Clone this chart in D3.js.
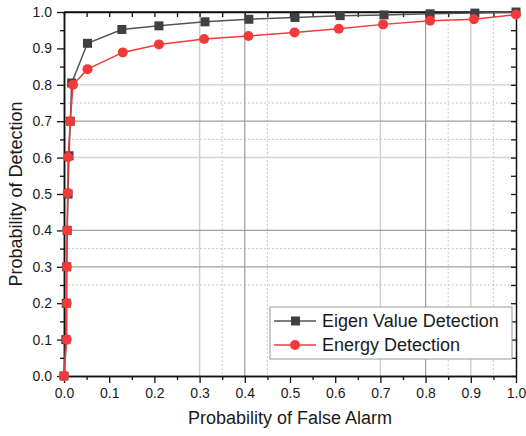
<!DOCTYPE html>
<html>
<head>
<meta charset="utf-8">
<script src="https://cdn.jsdelivr.net/npm/d3@7"></script>
<style>
  body { margin: 0; background: #fff; }
  text { font-family: "Liberation Sans", Arial, sans-serif; fill: #1a1a1a; }
</style>
</head>
<body>
<svg id="chart" width="526" height="436"></svg>
<script>
// ROC data
const eigenPfa = [0, 0.004, 0.005, 0.006, 0.007, 0.009, 0.011, 0.014, 0.017, 0.052, 0.128, 0.21, 0.312, 0.409, 0.511, 0.611, 0.708, 0.81, 0.909, 1.0];
const eigenPd  = [0, 0.1, 0.2, 0.3, 0.4, 0.5, 0.605, 0.7, 0.805, 0.914, 0.952, 0.962, 0.973, 0.98, 0.985, 0.99, 0.992, 0.995, 0.997, 1.0];
const energyPfa = [0, 0.006, 0.006, 0.006, 0.007, 0.008, 0.009, 0.014, 0.02, 0.052, 0.13, 0.21, 0.31, 0.408, 0.51, 0.608, 0.706, 0.81, 0.907, 1.0];
const energyPd  = [0, 0.1, 0.2, 0.3, 0.4, 0.503, 0.601, 0.7, 0.8, 0.843, 0.889, 0.911, 0.926, 0.934, 0.944, 0.954, 0.966, 0.976, 0.98, 0.993];

const tickValues = [0, 0.1, 0.2, 0.3, 0.4, 0.5, 0.6, 0.7, 0.8, 0.9, 1.0];
const minorTicks = [0.05, 0.15, 0.25, 0.35, 0.45, 0.55, 0.65, 0.75, 0.85, 0.95];
// grid lines that show in the figure (partial grid)
const gridXDark = [0.4, 0.8];
const gridXLight = [0.3, 0.7, 0.9];
const gridXDotted = [0.35, 0.45, 0.85, 0.95];
const gridYDark = [0.3, 0.4, 0.7];
const gridYLight = [0.6, 0.8];
const gridYDotted = [0.25, 0.35, 0.65, 0.75];

const seriesNames = ["Eigen Value Detection", "Energy Detection"];

const svg = d3.select("#chart");
const margin = { top: 12, right: 10, bottom: 60, left: 64 };
const width = 526 - margin.left - margin.right;
const height = 436 - margin.top - margin.bottom;
const g = svg.append("g").attr("transform", `translate(${margin.left}, ${margin.top})`);

const x = d3.scaleLinear().domain([0, 1]).range([0, width]);
const y = d3.scaleLinear().domain([0, 1]).range([height, 0]);

// grid
const vgrid = (vals, color, dash, w) => g.append("g").selectAll("line").data(vals).enter().append("line")
  .attr("x1", d => x(d)).attr("x2", d => x(d)).attr("y1", 0).attr("y2", height)
  .attr("stroke", color).attr("stroke-width", w).attr("stroke-dasharray", dash);
const hgrid = (vals, color, dash, w) => g.append("g").selectAll("line").data(vals).enter().append("line")
  .attr("y1", d => y(d)).attr("y2", d => y(d)).attr("x1", 0).attr("x2", width)
  .attr("stroke", color).attr("stroke-width", w).attr("stroke-dasharray", dash);
vgrid(gridXDotted, "#c8c8c8", "2,2", 1);
hgrid(gridYDotted, "#c8c8c8", "2,2", 1);
vgrid(gridXLight, "#cfcfcf", null, 1.5);
hgrid(gridYLight, "#d4d4d4", null, 1.5);
vgrid(gridXDark, "#999", null, 1.2);
hgrid(gridYDark, "#a0a0a0", null, 1.2);

// axes
const fmt = d3.format(".1f");
const styleAxis = sel => {
  sel.select(".domain").attr("stroke", "#111").attr("stroke-width", 1.5);
  sel.selectAll(".tick line").attr("stroke", "#111").attr("stroke-width", 1.3);
  sel.selectAll("text").style("font-size", "14px").attr("fill", "#1a1a1a");
};

g.append("g").attr("transform", `translate(0, ${height})`)
  .call(d3.axisBottom(x).tickValues(minorTicks).tickSize(4).tickFormat("").tickSizeOuter(0)).call(styleAxis);
g.append("g").attr("transform", `translate(0, ${height})`)
  .call(d3.axisBottom(x).tickValues(tickValues).tickSize(7).tickPadding(5).tickFormat(fmt).tickSizeOuter(0)).call(styleAxis);

g.append("g")
  .call(d3.axisLeft(y).tickValues(minorTicks).tickSize(4).tickFormat("").tickSizeOuter(0)).call(styleAxis);
g.append("g")
  .call(d3.axisLeft(y).tickValues(tickValues).tickSize(7).tickPadding(5).tickFormat(fmt).tickSizeOuter(0)).call(styleAxis);

// top and right mirror axes, ticks inward
g.append("g")
  .call(d3.axisBottom(x).tickValues(tickValues.concat(minorTicks)).tickSize(5).tickFormat("").tickSizeOuter(0)).call(styleAxis);
g.append("g").attr("transform", `translate(${width}, 0)`)
  .call(d3.axisRight(y).tickValues(tickValues.concat(minorTicks)).tickSize(-5).tickFormat("").tickSizeOuter(0)).call(styleAxis);
g.append("line").attr("x1", 0).attr("x2", width).attr("y1", 0).attr("y2", 0).attr("stroke", "#111").attr("stroke-width", 1.5);

// axis titles
svg.append("text")
  .attr("x", margin.left + width / 2).attr("y", 424)
  .attr("text-anchor", "middle").style("font-size", "18px")
  .text("Probability of False Alarm");
svg.append("text")
  .attr("transform", `translate(22, ${margin.top + height / 2}) rotate(-90)`)
  .attr("text-anchor", "middle").style("font-size", "18px")
  .text("Probability of Detection");

// series
const eigen = eigenPfa.map((d, i) => [d, eigenPd[i]]);
const energy = energyPfa.map((d, i) => [d, energyPd[i]]);
const line = d3.line().x(d => x(d[0])).y(d => y(d[1]));

g.append("path").datum(eigen).attr("d", line)
  .attr("fill", "none").attr("stroke", "#555").attr("stroke-width", 1.5);
g.selectAll(".sq").data(eigen).enter().append("rect")
  .attr("class", "sq")
  .attr("x", d => x(d[0]) - 4.5).attr("y", d => y(d[1]) - 4.5)
  .attr("width", 9).attr("height", 9).attr("fill", "#404040");

g.append("path").datum(energy).attr("d", line)
  .attr("fill", "none").attr("stroke", "#f23a3a").attr("stroke-width", 1.5);
g.selectAll(".dot").data(energy).enter().append("circle")
  .attr("class", "dot")
  .attr("cx", d => x(d[0])).attr("cy", d => y(d[1]))
  .attr("r", 5).attr("fill", "#f23a3a");

// legend
const lg = svg.append("g").attr("transform", "translate(270, 307)");
lg.append("rect").attr("width", 242).attr("height", 52)
  .attr("fill", "#fff").attr("stroke", "#999").attr("stroke-width", 1);
const colors = ["#555", "#f23a3a"];
seriesNames.forEach((name, i) => {
  const row = lg.append("g").attr("transform", `translate(0, ${14 + i * 24})`);
  row.append("line").attr("x1", 4).attr("x2", 46).attr("stroke", colors[i]).attr("stroke-width", 1.5);
  if (i === 0) {
    row.append("rect").attr("x", 21).attr("y", -4.5).attr("width", 9).attr("height", 9).attr("fill", "#404040");
  } else {
    row.append("circle").attr("cx", 25).attr("r", 5).attr("fill", colors[i]);
  }
  row.append("text").attr("x", 52).attr("y", 6).style("font-size", "18px").text(name);
});
</script>
</body>
</html>
